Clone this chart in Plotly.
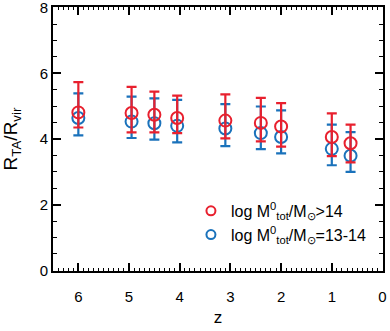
import plotly.graph_objects as go

# redshift of each snapshot
z = [6.0, 4.95, 4.5, 4.05, 3.1, 2.4, 2.0, 1.0, 0.63]

# log M > 14
red_y = [4.81, 4.79, 4.74, 4.64, 4.56, 4.49, 4.38, 4.06, 3.87]
red_hi = [5.73, 5.59, 5.44, 5.32, 5.36, 5.25, 5.09, 4.78, 4.44]
red_lo = [4.35, 4.20, 4.20, 4.18, 4.02, 3.93, 3.77, 3.48, 3.29]

# log M = 13-14
blue_y = [4.64, 4.53, 4.48, 4.40, 4.32, 4.18, 4.06, 3.70, 3.49]
blue_hi = [5.39, 5.29, 5.24, 5.19, 5.06, 4.99, 4.87, 4.44, 4.21]
blue_lo = [4.11, 4.03, 3.98, 3.90, 3.78, 3.69, 3.56, 3.20, 3.00]

x_ticks = [6, 5, 4, 3, 2, 1, 0]
y_ticks = [0, 2, 4, 6, 8]

RED = "#e8202e"
BLUE = "#1a72bb"
FONT = "Liberation Sans, Arial, Helvetica, sans-serif"
NAME_RED = "log M<sup>0</sup><sub>tot</sub>/M<sub>⊙</sub>>14"
NAME_BLUE = "log M<sup>0</sup><sub>tot</sub>/M<sub>⊙</sub>=13-14"

def err(y, hi, lo):
    return [h - v for h, v in zip(hi, y)], [v - l for v, l in zip(y, lo)]

fig = go.Figure()
bp, bm = err(blue_y, blue_hi, blue_lo)
rp, rm = err(red_y, red_hi, red_lo)
fig.add_trace(go.Scatter(
    x=z, y=blue_y, mode="markers", showlegend=False, name=NAME_BLUE,
    marker=dict(symbol="circle-open", size=12, color=BLUE, line=dict(width=2, color=BLUE)),
    error_y=dict(type="data", array=bp, arrayminus=bm, color=BLUE, thickness=2.2, width=5),
))
fig.add_trace(go.Scatter(
    x=z, y=red_y, mode="markers", showlegend=False, name=NAME_RED,
    marker=dict(symbol="circle-open", size=12, color=RED, line=dict(width=2, color=RED)),
    error_y=dict(type="data", array=rp, arrayminus=rm, color=RED, thickness=2.2, width=5),
))
# legend entries (smaller symbols, as in the reference)
for name, col, rank in [(NAME_RED, RED, 1), (NAME_BLUE, BLUE, 2)]:
    fig.add_trace(go.Scatter(
        x=[None], y=[None], mode="markers", name=name, legendrank=rank,
        marker=dict(symbol="circle-open", size=9, color=col, line=dict(width=2, color=col)),
    ))

axis_common = dict(
    showline=True, linewidth=2, linecolor="black", mirror="allticks",
    ticks="inside", tickwidth=1.5, tickcolor="black",
    showgrid=False, zeroline=False, ticklabeloverflow="allow", automargin=False,
    tickfont=dict(size=15, color="black", family=FONT),
)

fig.update_xaxes(
    range=[6.5, -0.01], tickvals=x_ticks, ticktext=[str(t) for t in x_ticks], ticklen=8,
    minor=dict(dtick=0.1, ticklen=3, ticks="inside", tickwidth=1, tickcolor="black"),
    ticklabelstandoff=11,
    title=dict(text="z", font=dict(size=17, color="black", family=FONT), standoff=7),
    **axis_common,
)
fig.update_yaxes(
    range=[-0.02, 8.02], tickvals=y_ticks, ticktext=[str(t) for t in y_ticks], ticklen=8,
    minor=dict(dtick=0.5, ticklen=4, ticks="inside", tickwidth=1, tickcolor="black"),
    title=dict(text="R<sub>TA</sub>/R<sub>vir</sub>", font=dict(size=19, color="black", family=FONT), standoff=20),
    **axis_common,
)

fig.update_layout(
    width=390, height=331,
    margin=dict(l=53, r=7, t=7, b=60),
    plot_bgcolor="white", paper_bgcolor="white",
    font=dict(family=FONT, color="black"),
    legend=dict(
        x=0.418, y=0.292, xanchor="left", yanchor="top",
        bgcolor="rgba(0,0,0,0)", font=dict(size=16, color="black", family=FONT),
        itemwidth=30, tracegroupgap=0,
    ),
)

fig.write_html("out.html", config={"displayModeBar": False},
               post_script="document.body.style.margin='0px';")
